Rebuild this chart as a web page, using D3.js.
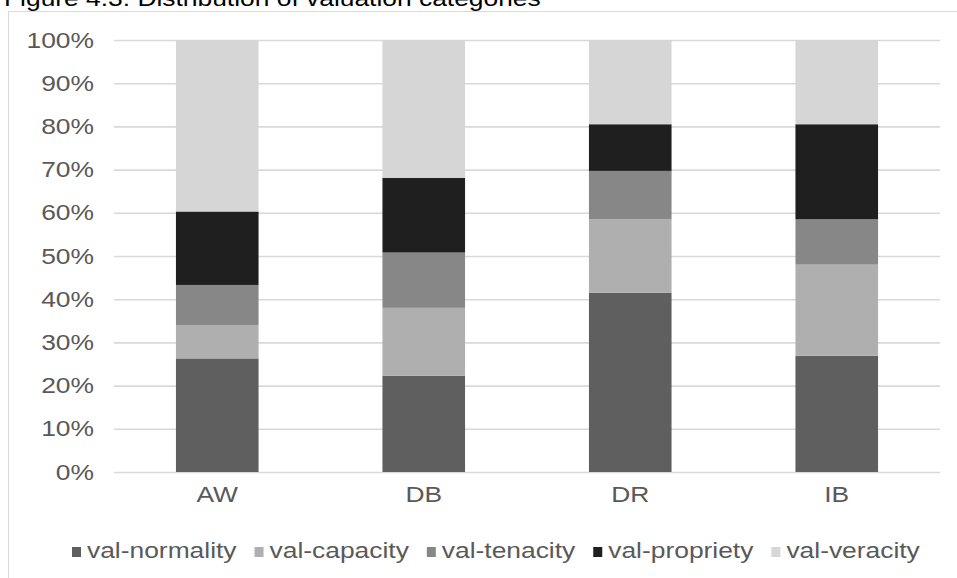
<!DOCTYPE html>
<html>
<head>
<meta charset="utf-8">
<script src="https://cdn.jsdelivr.net/npm/d3@7"></script>
<style>
  html, body { margin: 0; padding: 0; background: #fff; }
  svg { display: block; font-family: "Liberation Sans", Arial, Helvetica, sans-serif; }
</style>
</head>
<body>
<svg id="chart" width="957" height="578"></svg>
<script>
// ---- data (percent of each category) ----
const categories = ["AW", "DB", "DR", "IB"];
const seriesNames = ["val-normality", "val-capacity", "val-tenacity", "val-propriety", "val-veracity"];
const normality = [26.3, 22.3, 41.5, 26.9];
const capacity  = [7.7, 15.7, 17.0, 21.1];
const tenacity  = [9.3, 12.8, 11.2, 10.5];
const propriety = [17.0, 17.3, 10.8, 22.0];
const veracity  = [39.7, 31.9, 19.5, 19.5];
const yTicks = [0, 0.1, 0.2, 0.3, 0.4, 0.5, 0.6, 0.7, 0.8, 0.9, 1.0];
const titleText = "Figure 4.3: Distribution of valuation categories";

const seriesValues = [normality, capacity, tenacity, propriety, veracity];
const colors = ["#5f5f5f", "#afafaf", "#878787", "#1f1f1f", "#d6d6d6"];

const rows = categories.map((c, i) => {
  const r = { cat: c };
  seriesNames.forEach((s, j) => { r[s] = seriesValues[j][i]; });
  return r;
});

const svg = d3.select("#chart");
const W = 957, H = 578;
const plot = { left: 114, right: 940, top: 40, bottom: 472 };
const STRETCH = 1.2;
const textColor = "#595959";

// title (partially clipped at top)
svg.append("text")
  .attr("transform", `translate(4,6) scale(${STRETCH},1)`)
  .attr("font-size", 22)
  .attr("fill", "#000")
  .text(titleText);

// border box
svg.append("rect")
  .attr("x", 8.5).attr("y", 11.5)
  .attr("width", 1000).attr("height", 700)
  .attr("fill", "none")
  .attr("stroke", "#d9d9d9")
  .attr("stroke-width", 1);

const x = d3.scaleBand()
  .domain(categories)
  .range([plot.left, plot.right])
  .paddingInner(0.6)
  .paddingOuter(0.3);

const y = d3.scaleLinear()
  .domain([0, 1])
  .range([plot.bottom, plot.top]);

// y axis with gridlines
const yAxis = svg.append("g")
  .attr("transform", `translate(${plot.left},0)`)
  .call(d3.axisLeft(y)
    .tickValues(yTicks)
    .tickSize(-(plot.right - plot.left))
    .tickPadding(20)
    .tickFormat(d3.format(".0%")));
yAxis.select(".domain").remove();
yAxis.selectAll(".tick line")
  .attr("stroke", "#d9d9d9")
  .attr("stroke-width", 1.6);
yAxis.selectAll(".tick text")
  .attr("x", 0)
  .attr("transform", `translate(-20,0) scale(${STRETCH},1)`)
  .attr("font-size", 22)
  .attr("font-family", "Liberation Sans, Arial, sans-serif")
  .attr("fill", textColor);

// stacked bars
const stack = d3.stack().keys(seriesNames).offset(d3.stackOffsetExpand);
const stacked = stack(rows);

svg.append("g").selectAll("g")
  .data(stacked)
  .join("g")
  .attr("fill", (d, i) => colors[i])
  .selectAll("rect")
  .data(d => d)
  .join("rect")
  .attr("x", d => x(d.data.cat))
  .attr("width", x.bandwidth())
  .attr("y", d => y(d[1]))
  .attr("height", d => y(d[0]) - y(d[1]));

// x axis labels
const xAxis = svg.append("g")
  .attr("transform", `translate(0,${plot.bottom})`)
  .call(d3.axisBottom(x).tickSize(0).tickPadding(14));
xAxis.select(".domain").remove();
xAxis.selectAll(".tick text")
  .attr("transform", `scale(${STRETCH},1)`)
  .attr("font-size", 22)
  .attr("font-family", "Liberation Sans, Arial, sans-serif")
  .attr("fill", textColor);

// legend
const legend = svg.append("g");
let lx = 72;
const ly = 558;
seriesNames.forEach((name, i) => {
  legend.append("rect")
    .attr("x", lx).attr("y", ly - 11)
    .attr("width", 9).attr("height", 10)
    .attr("fill", colors[i]);
  const t = legend.append("text")
    .attr("transform", `translate(${lx + 15},${ly}) scale(${STRETCH},1)`)
    .attr("font-size", 22)
    .attr("fill", textColor)
    .text(name);
  const w = t.node().getComputedTextLength() * STRETCH;
  lx = lx + 15 + w + 18;
});
</script>
</body>
</html>
